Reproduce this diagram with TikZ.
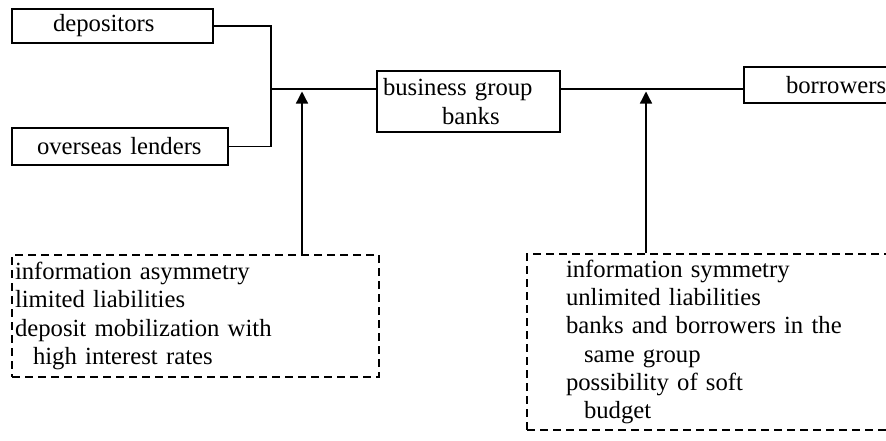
\documentclass[tikz,border=0pt]{standalone}
\usepackage{fontspec}
\setmainfont{Liberation Serif}
\usetikzlibrary{arrows.meta}
\begin{document}
\begin{tikzpicture}[x=1pt,y=-1pt,
  every node/.style={font=\fontsize{24.7}{28.3}\selectfont, inner sep=0pt},
  solidbox/.style={draw, line width=1.3pt, align=left},
  dashbox/.style={draw, line width=1.3pt, dash pattern=on 8pt off 5pt, align=left},
  conn/.style={line width=1.3pt},
  uparrow/.style={line width=1.3pt, -{Triangle[length=12pt,width=12pt]}, shorten >=2.5pt}]
\path[use as bounding box, clip] (0,0) rectangle (886,440);
\fill[white] (0,0) rectangle (886,440);

\node[solidbox, minimum width=201pt, minimum height=34pt, text width=119pt] (dep) at (112.5,26) {depositors};
\node[solidbox, minimum width=216pt, minimum height=37pt, text width=166pt] (ovs) at (120,146.5) {overseas lenders};
\node[solidbox, minimum width=183pt, minimum height=61pt, text width=171pt] (bgb) at (468.5,101.5) {business group\\\hspace*{59pt}banks};
\node[solidbox, minimum width=196pt, minimum height=36pt, text width=112pt] (bor) at (842,85) {borrowers};

\node[dashbox, minimum width=367pt, minimum height=122pt, text width=361pt] (lbox) at (195.5,316)
  {information asymmetry\\limited liabilities\\deposit mobilization with\\\hspace*{18pt}high interest rates};
\node[dashbox, minimum width=413pt, minimum height=176pt, text width=335pt] (rbox) at (733.5,342)
  {information symmetry\\unlimited liabilities\\banks and borrowers in the\\\hspace*{18pt}same group\\possibility of soft\\\hspace*{18pt}budget};

\coordinate (j) at (271,89);
\coordinate (la) at (302,89);
\coordinate (ra) at (646,89);

\draw[conn] (dep.east) -| (j) |- (ovs.east);
\draw[conn] (j) -- (j -| bgb.west);
\draw[conn] (bgb.east |- j) -- (bor.west |- j);
\draw[uparrow] (la |- lbox.north) -- (la);
\draw[uparrow] (ra |- rbox.north) -- (ra);
\end{tikzpicture}
\end{document}
